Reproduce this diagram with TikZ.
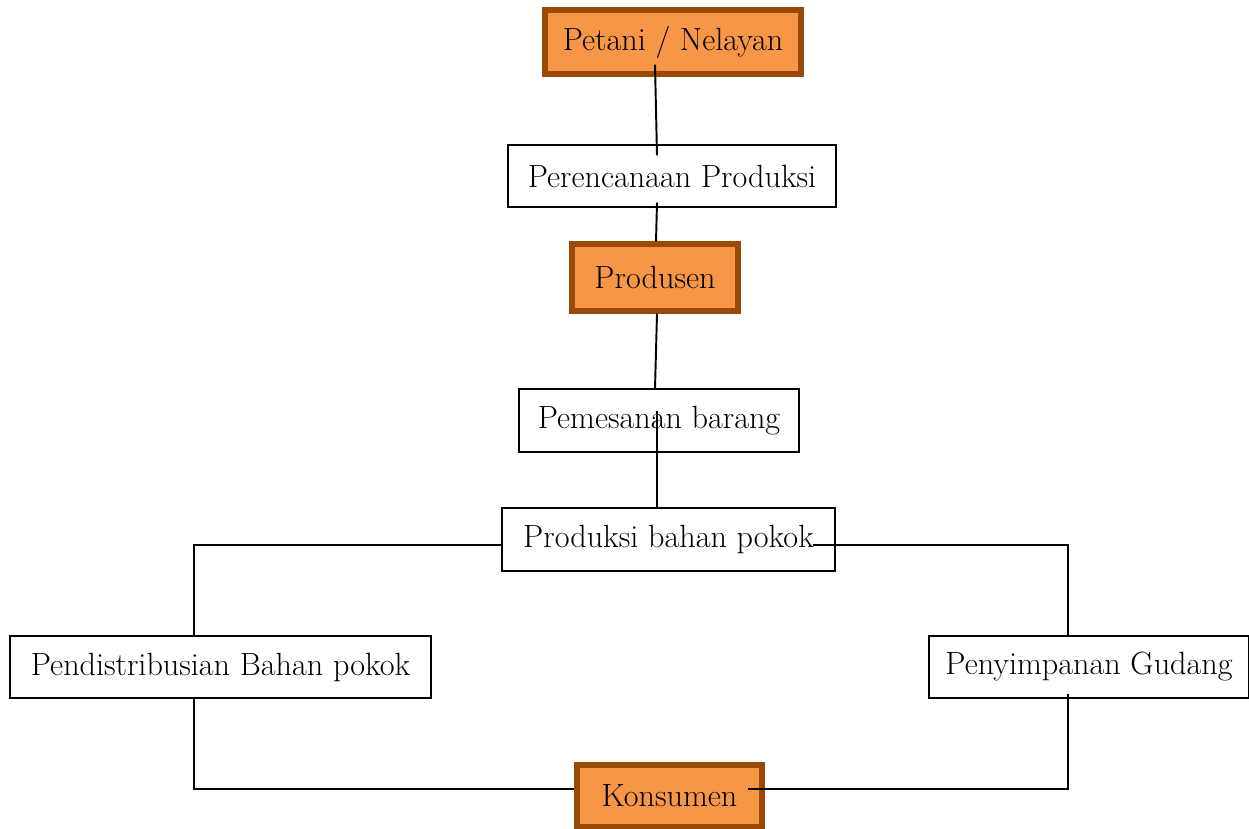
\documentclass[tikz,border=0pt]{standalone}
\usetikzlibrary{positioning}
\definecolor{oranye}{HTML}{F79646}
\definecolor{coklat}{HTML}{9A4A06}
\begin{document}
\begin{tikzpicture}[
	kotak/.style={draw, line width=0.6pt, fill=white, inner sep=0pt, font=\fontsize{18.3}{22}\selectfont},
	kotakoranye/.style={kotak, draw=coklat, fill=oranye, line width=3pt},
	garis/.style={line width=1.1pt}]
	
	\useasboundingbox (0,0) rectangle (24.98,-16.58);
	% kotak-kotak alur
	\node[kotakoranye, minimum width=5.12cm, minimum height=1.28cm] (petani) at (13.46,-0.84) {Petani / Nelayan};
	\node[kotak, minimum width=6.56cm, minimum height=1.24cm] (perencanaan) at (13.44,-3.52) {Perencanaan Produksi};
	\node[kotakoranye, minimum width=3.32cm, minimum height=1.34cm] (produsen) at (13.10,-5.55) {Produsen};
	\node[kotak, minimum width=5.6cm, minimum height=1.26cm] (pemesanan) at (13.18,-8.41) {Pemesanan barang};
	\node[kotak, minimum width=6.66cm, minimum height=1.26cm] (produksi) at (13.37,-10.79) {Produksi bahan pokok};
	\node[kotak, minimum width=8.42cm, minimum height=1.24cm] (distribusi) at (4.41,-13.34) {Pendistribusian Bahan pokok};
	\node[kotak, minimum width=6.4cm, minimum height=1.24cm] (gudang) at (21.78,-13.34) {Penyimpanan Gudang};
	\node[kotakoranye, minimum width=3.7cm, minimum height=1.24cm] (konsumen) at (13.39,-15.92) {Konsumen};
	
	% garis penghubung
	\draw[garis] ([xshift=-0.36cm,yshift=0.24cm]petani.south) -- ([xshift=-0.3cm,yshift=-0.22cm]perencanaan.north);
	\draw[garis] ([xshift=-0.3cm,yshift=0.1cm]perencanaan.south) -- ([xshift=0.02cm]produsen.north);
	\draw[garis] ([xshift=0.04cm]produsen.south) -- ([xshift=-0.08cm]pemesanan.north);
	\draw[garis] ([xshift=-0.04cm,yshift=0.84cm]pemesanan.south) -- ([xshift=-0.23cm]produksi.north);
	\draw[garis] ([yshift=-0.11cm]produksi.west) -| ([xshift=-0.53cm]distribusi.north);
	\draw[garis] ([xshift=-0.46cm,yshift=-0.11cm]produksi.east) -| ([xshift=-0.42cm]gudang.north);
	\draw[garis] ([xshift=-0.53cm]distribusi.south) |- ([yshift=0.14cm]konsumen.west);
	\draw[garis] ([xshift=-0.42cm,yshift=0.1cm]gudang.south) |- ([xshift=-0.34cm,yshift=0.14cm]konsumen.east);
\end{tikzpicture}
\end{document}
